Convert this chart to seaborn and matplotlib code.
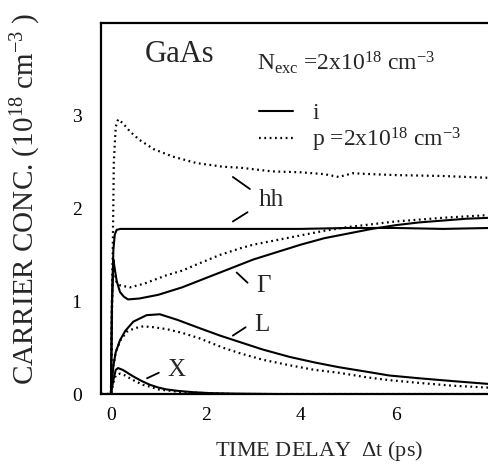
import numpy as np
import pandas as pd
import matplotlib
matplotlib.use("Agg")
import matplotlib.pyplot as plt
import seaborn as sns

# ---- data: carrier concentrations (10^18 cm^-3) vs time delay (ps) ----
# intrinsic (i), solid lines
t_hh_i = [-0.2, 0.0, 0.02, 0.05, 0.08, 0.12, 0.2, 0.5, 1.0, 2.0, 3.0, 4.0, 5.0, 6.0, 7.0, 8.0, 9.0]
n_hh_i = [0, 0, 0.9, 1.55, 1.72, 1.77, 1.78, 1.78, 1.78, 1.78, 1.78, 1.78, 1.79, 1.79, 1.78, 1.79, 1.79]

t_G_i = [-0.2, 0.0, 0.02, 0.05, 0.08, 0.12, 0.19, 0.27, 0.36, 0.6, 1.0, 1.5, 2.0, 2.5, 3.0, 3.5,
         4.0, 4.5, 5.0, 5.5, 6.0, 6.5, 7.0, 7.5, 8.0, 9.0]
n_G_i = [0, 0, 1.0, 1.45, 1.35, 1.22, 1.10, 1.05, 1.02, 1.03, 1.07, 1.15, 1.25, 1.35, 1.45, 1.53,
         1.61, 1.68, 1.73, 1.78, 1.82, 1.85, 1.87, 1.89, 1.90, 1.92]

t_L_i = [-0.2, 0.0, 0.05, 0.1, 0.19, 0.3, 0.47, 0.75, 1.03, 1.4, 1.87, 2.3, 2.72, 3.2, 3.77,
         4.3, 4.8, 5.4, 5.87, 6.5, 7.2, 7.94, 9.0]
n_L_i = [0, 0, 0.3, 0.45, 0.58, 0.68, 0.78, 0.85, 0.86, 0.80, 0.71, 0.63, 0.56, 0.48, 0.40,
         0.34, 0.29, 0.24, 0.20, 0.17, 0.14, 0.11, 0.08]

t_X_i = [-0.2, 0.0, 0.05, 0.1, 0.15, 0.25, 0.47, 0.65, 0.82, 1.0, 1.17, 1.4, 1.73, 2.1, 2.6, 3.5, 5.0, 9.0]
n_X_i = [0, 0, 0.15, 0.26, 0.28, 0.26, 0.19, 0.14, 0.10, 0.07, 0.05, 0.035, 0.02, 0.01, 0.005, 0, 0, 0]

# p-doped (p = 2x10^18 cm^-3), dotted lines
t_hh_p = [-0.2, 0.0, 0.03, 0.06, 0.1, 0.15, 0.25, 0.4, 0.6, 0.9, 1.3, 1.8, 2.36, 2.72, 3.4,
          4.0, 4.5, 4.8, 5.1, 5.5, 6.0, 7.0, 8.0, 9.0]
n_hh_p = [0, 0, 1.2, 2.5, 2.88, 2.96, 2.92, 2.83, 2.74, 2.64, 2.56, 2.49, 2.45, 2.44, 2.40,
          2.39, 2.37, 2.34, 2.38, 2.37, 2.36, 2.35, 2.33, 2.33]

t_G_p = [-0.2, 0.0, 0.02, 0.04, 0.08, 0.12, 0.2, 0.4, 0.7, 1.17, 1.5, 1.87, 2.3, 2.72, 3.0,
         3.5, 4.0, 4.5, 5.0, 5.5, 6.0, 7.0, 8.0, 9.0]
n_G_p = [0, 0, 1.0, 1.42, 1.3, 1.2, 1.17, 1.15, 1.19, 1.28, 1.33, 1.41, 1.50, 1.57, 1.61,
         1.66, 1.71, 1.76, 1.80, 1.83, 1.86, 1.90, 1.93, 1.95]

t_L_p = [-0.2, 0.0, 0.05, 0.1, 0.2, 0.33, 0.5, 0.68, 0.9, 1.17, 1.5, 1.87, 2.36, 2.72, 3.2,
         3.77, 4.3, 4.8, 5.4, 5.87, 6.5, 7.2, 7.94, 9.0]
n_L_p = [0, 0, 0.3, 0.45, 0.58, 0.67, 0.71, 0.73, 0.72, 0.70, 0.66, 0.60, 0.50, 0.44, 0.37,
         0.31, 0.26, 0.23, 0.18, 0.15, 0.12, 0.09, 0.07, 0.05]

t_X_p = [-0.2, 0.0, 0.05, 0.1, 0.19, 0.3, 0.47, 0.67, 0.82, 1.0, 1.17, 1.5, 2.0, 2.6, 3.5, 5.0, 9.0]
n_X_p = [0, 0, 0.12, 0.2, 0.22, 0.2, 0.15, 0.10, 0.08, 0.05, 0.04, 0.02, 0.01, 0.0, 0, 0, 0]

x_ticks = [0, 2, 4, 6]
y_ticks = [0, 1, 2, 3]

# ---- style ----
sns.set_theme(style="white")
plt.rcParams["font.family"] = ["Liberation Serif", "DejaVu Serif"]
plt.rcParams["mathtext.fontset"] = "custom"
plt.rcParams["mathtext.rm"] = "Liberation Serif"
plt.rcParams["mathtext.it"] = "Liberation Serif:italic"

fig = plt.figure(figsize=(4.88, 4.68), dpi=100)
fig.patch.set_facecolor("white")
# axes run past the right edge of the figure, so the right spine is cut off
ax = fig.add_axes([0.207, 0.158, 0.895, 0.793])
ax.set_facecolor("white")

solid_kw = dict(color="black", lw=1.5, estimator=None, sort=False, ax=ax)
dot_kw = dict(color="black", lw=1.6, estimator=None, sort=False, ax=ax,
              linestyle=(0, (0.8, 1.6)))

series_i = [(t_hh_i, n_hh_i), (t_G_i, n_G_i), (t_L_i, n_L_i), (t_X_i, n_X_i)]
series_p = [(t_hh_p, n_hh_p), (t_G_p, n_G_p), (t_L_p, n_L_p), (t_X_p, n_X_p)]

h_i = h_p = None
for k, (t, n) in enumerate(series_i):
    sns.lineplot(x=t, y=n, **solid_kw)
    if k == 0:
        h_i = ax.lines[-1]
for k, (t, n) in enumerate(series_p):
    sns.lineplot(x=t, y=n, **dot_kw)
    if k == 0:
        h_p = ax.lines[-1]

ax.set_xlim(-0.21, 9.0)
ax.set_ylim(0, 4.0)
ax.set_xticks(x_ticks)
ax.set_yticks(y_ticks)
ax.set_xticklabels([str(v) for v in x_ticks])
ax.set_yticklabels([str(v) for v in y_ticks])
ax.tick_params(axis="both", direction="in", length=8, width=1.3, colors="black",
               labelsize=14)
ax.tick_params(axis="x", pad=9)
ax.tick_params(axis="y", pad=14)
for side in ["left", "bottom", "top", "right"]:
    ax.spines[side].set_visible(True)
    ax.spines[side].set_color("black")
    ax.spines[side].set_linewidth(1.6)

ax.set_xlabel(r"TIME DELAY  $\Delta$t (ps)", fontsize=16, labelpad=11)
ax.set_ylabel(r"CARRIER CONC. (10$^{18}$ cm$^{-3}$ )", fontsize=21)
ax.yaxis.set_label_coords(-0.133, 0.526)

# titles inside the frame
ax.text(0.18, 0.915, "GaAs", transform=ax.transAxes, fontsize=22,
        ha="center", va="center")
ax.text(0.358, 0.893, r"N$_{\rm exc}$ =2x10$^{18}$ cm$^{-3}$", transform=ax.transAxes,
        fontsize=17, ha="left", va="center")

leg = ax.legend([h_i, h_p], ["i", r"p =2x10$^{18}$ cm$^{-3}$"],
                loc="upper left", bbox_to_anchor=(0.34, 0.81), frameon=False,
                fontsize=17, handlelength=1.45, handletextpad=0.8,
                labelspacing=0.05, borderaxespad=0)

# curve labels with leader lines
lab_kw = dict(fontsize=18, ha="center", va="center")
ax.text(3.39, 2.09, "hh", **lab_kw)
ax.plot([2.57, 2.93], [2.34, 2.21], color="black", lw=1.3)
ax.plot([2.57, 2.88], [1.86, 1.96], color="black", lw=1.3)
ax.text(3.22, 1.17, r"$\Gamma$", **lab_kw)
ax.plot([2.65, 2.88], [1.31, 1.20], color="black", lw=1.3)
ax.text(3.18, 0.74, "L", **lab_kw)
ax.plot([2.57, 2.84], [0.63, 0.72], color="black", lw=1.3)
ax.text(1.39, 0.26, "X", **lab_kw)
ax.plot([0.76, 1.01], [0.17, 0.23], color="black", lw=1.3)

fig.savefig("out.png", dpi=100, facecolor="white")
